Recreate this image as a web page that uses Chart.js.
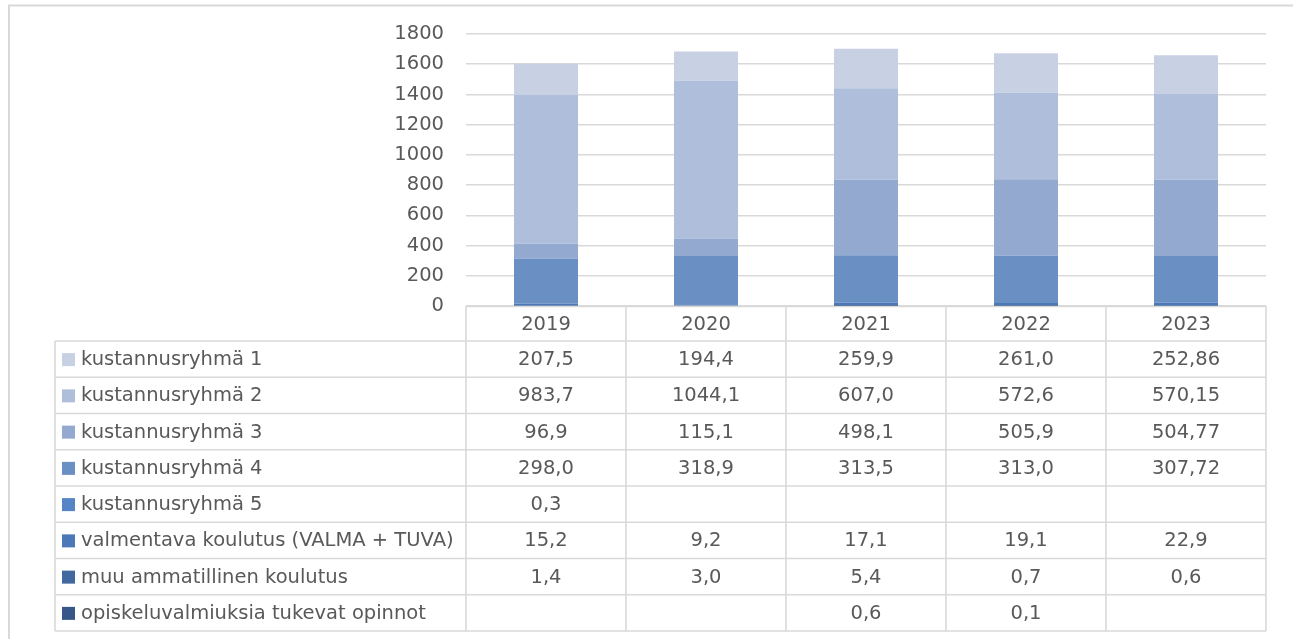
<!DOCTYPE html>
<html>
<head>
<meta charset="utf-8">
<script src="https://cdn.jsdelivr.net/npm/chart.js@4"></script>
<style>
  html, body { margin: 0; padding: 0; background: #ffffff; }
  #wrap { width: 1293px; height: 639px; position: relative; }
</style>
</head>
<body>
<div id="wrap"><canvas id="c" width="1293" height="639"></canvas></div>
<script>
// ---- data ----
const years = ['2019', '2020', '2021', '2022', '2023'];
const yTicks = [0, 200, 400, 600, 800, 1000, 1200, 1400, 1600, 1800];

const kustannusryhma1 = [207.5, 194.4, 259.9, 261.0, 252.86];
const kustannusryhma2 = [983.7, 1044.1, 607.0, 572.6, 570.15];
const kustannusryhma3 = [96.9, 115.1, 498.1, 505.9, 504.77];
const kustannusryhma4 = [298.0, 318.9, 313.5, 313.0, 307.72];
const kustannusryhma5 = [0.3, null, null, null, null];
const valmentava = [15.2, 9.2, 17.1, 19.1, 22.9];
const muuAmmatillinen = [1.4, 3.0, 5.4, 0.7, 0.6];
const opiskeluvalmiuksia = [null, null, 0.6, 0.1, null];

const decimalsKR = [1, 1, 1, 1, 2];
const decimalsOther = [1, 1, 1, 1, 1];

// series listed bottom of stack -> top of stack
const seriesDefs = [
  { label: 'opiskeluvalmiuksia tukevat opinnot', data: opiskeluvalmiuksia, color: '#385789', dec: decimalsOther },
  { label: 'muu ammatillinen koulutus', data: muuAmmatillinen, color: '#42699F', dec: decimalsOther },
  { label: 'valmentava koulutus (VALMA + TUVA)', data: valmentava, color: '#4B79B7', dec: decimalsOther },
  { label: 'kustannusryhmä 5', data: kustannusryhma5, color: '#5585C6', dec: decimalsOther },
  { label: 'kustannusryhmä 4', data: kustannusryhma4, color: '#6A8FC3', dec: decimalsKR },
  { label: 'kustannusryhmä 3', data: kustannusryhma3, color: '#94A9D0', dec: decimalsKR },
  { label: 'kustannusryhmä 2', data: kustannusryhma2, color: '#AFBFDB', dec: decimalsKR },
  { label: 'kustannusryhmä 1', data: kustannusryhma1, color: '#C8D0E4', dec: decimalsKR }
];

const FONT = '"DejaVu Sans", sans-serif';
const TEXT = '#595959';
const LINE = '#D9D9D9';

function fmt(v, d) {
  if (v === null || v === undefined) return '';
  return v.toFixed(d).replace('.', ',');
}

const framePlugin = {
  id: 'frame',
  beforeDraw(chart) {
    const ctx = chart.ctx;
    ctx.save();
    ctx.fillStyle = '#ffffff';
    ctx.fillRect(0, 0, chart.width, chart.height);
    ctx.strokeStyle = LINE;
    ctx.lineWidth = 2;
    ctx.beginPath();
    ctx.moveTo(9, chart.height + 2);
    ctx.lineTo(9, 5.5);
    ctx.lineTo(chart.width + 2, 5.5);
    ctx.stroke();
    ctx.restore();
  }
};

const tablePlugin = {
  id: 'dataTable',
  afterDatasetsDraw(chart) {
    const ctx = chart.ctx;
    const xs = chart.scales.x;
    const area = chart.chartArea;
    const n = years.length;
    const colW = (area.right - area.left) / n;
    const top = area.bottom;
    const headerH = 35;
    const rowH = 36.25;
    const leftX = 55;
    const rows = seriesDefs.slice().reverse();
    const bottom = top + headerH + rows.length * rowH;

    ctx.save();
    ctx.strokeStyle = LINE;
    ctx.lineWidth = 1.6;
    ctx.beginPath();
    // header top line
    ctx.moveTo(area.left, top + 0.5);
    ctx.lineTo(area.right, top + 0.5);
    // row lines
    for (let r = 0; r <= rows.length; r++) {
      const y = top + headerH + r * rowH;
      ctx.moveTo(leftX, y);
      ctx.lineTo(area.right, y);
    }
    // vertical lines for year columns
    for (let i = 0; i <= n; i++) {
      const x = (i < n ? xs.getPixelForTick(i) - colW / 2 : xs.getPixelForTick(n - 1) + colW / 2);
      ctx.moveTo(x, top);
      ctx.lineTo(x, bottom);
    }
    // left column border
    ctx.moveTo(leftX, top + headerH);
    ctx.lineTo(leftX, bottom);
    ctx.stroke();

    ctx.font = '19.5px ' + FONT;
    ctx.fillStyle = TEXT;
    ctx.textBaseline = 'middle';
    ctx.textAlign = 'center';
    years.forEach((yr, i) => {
      ctx.fillText(yr, xs.getPixelForTick(i), top + headerH / 2 + 1);
    });

    rows.forEach((s, r) => {
      const cy = top + headerH + r * rowH + rowH / 2 + 1;
      ctx.fillStyle = s.color;
      ctx.fillRect(leftX + 7, cy - 7, 13, 13);
      ctx.fillStyle = TEXT;
      ctx.textAlign = 'left';
      ctx.fillText(s.label, leftX + 26, cy);
      ctx.textAlign = 'center';
      s.data.forEach((v, i) => {
        ctx.fillText(fmt(v, s.dec[i]), xs.getPixelForTick(i), cy);
      });
    });
    ctx.restore();
  }
};

new Chart(document.getElementById('c'), {
  type: 'bar',
  data: {
    labels: years,
    datasets: seriesDefs.map(s => ({
      label: s.label,
      data: s.data,
      backgroundColor: s.color,
      borderWidth: 0,
      barPercentage: 0.4,
      categoryPercentage: 1.0
    }))
  },
  options: {
    responsive: false,
    animation: false,
    devicePixelRatio: 1,
    layout: { padding: { left: 0, right: 27, top: 34, bottom: 333 } },
    plugins: {
      legend: { display: false },
      tooltip: { enabled: false },
      title: { display: false }
    },
    scales: {
      x: {
        stacked: true,
        display: false
      },
      y: {
        stacked: true,
        min: 0,
        max: 1800,
        afterBuildTicks: (scale) => { scale.ticks = yTicks.map(v => ({ value: v })); },
        afterFit: (scale) => { scale.width = 466; },
        border: { display: false },
        grid: { color: LINE, lineWidth: 1.6, drawTicks: false },
        ticks: {
          padding: 22,
          color: TEXT,
          font: { family: FONT, size: 19.5 },
          callback: (v) => String(v)
        }
      }
    }
  },
  plugins: [framePlugin, tablePlugin]
});
</script>
</body>
</html>
